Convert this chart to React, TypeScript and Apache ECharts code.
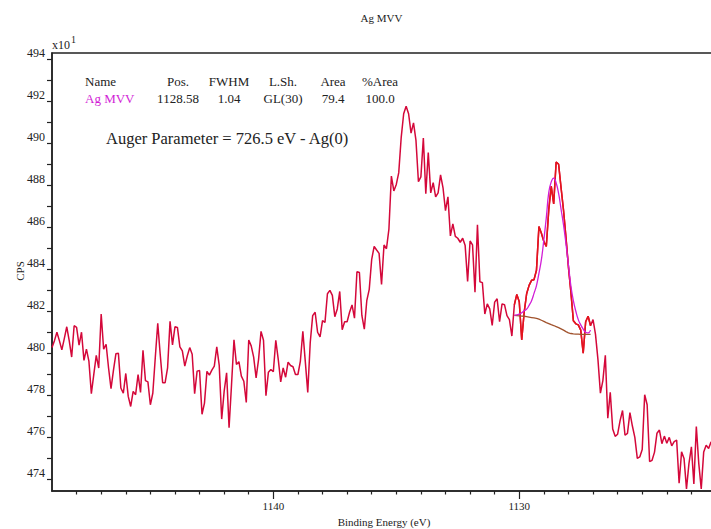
import React, { useEffect, useRef } from "react";
import * as echarts from "echarts";

// Binding energy grid of the acquisition (eV), highest energy first
const START_EV = 1149.0;
const STEP_EV = 0.1;

// Measured counts (x10 CPS), one value per 0.1 eV step starting at 1149.0 eV
const CPS: number[] = [
  480.27, 480.6, 481.0, 480.6, 480.16, 480.7, 481.26, 480.6, 479.82, 481.31,
  481.23, 480.39, 481.0, 479.66, 480.2, 479.63, 478.08, 479.0, 479.9, 479.3,
  481.87, 480.19, 480.43, 479.3, 478.32, 479.2, 479.98, 480.0, 478.35, 478.1,
  479.04, 477.95, 477.47, 478.19, 478.03, 478.99, 478.14, 480.14, 478.7, 478.64,
  477.55, 478.11, 479.8, 481.43, 479.95, 478.6, 478.6, 479.3, 481.52, 480.4,
  481.26, 481.23, 480.3, 480.11, 479.39, 479.87, 480.27, 479.95, 478.08, 479.15,
  479.18, 477.1, 477.63, 479.14, 478.96, 479.2, 479.39, 480.3, 479.42, 476.87,
  478.19, 479.07, 476.46, 478.5, 480.64, 479.47, 479.6, 478.91, 478.67, 477.66,
  480.63, 480.35, 479.82, 478.83, 479.71, 481.04, 480.62, 477.98, 479.1, 479.23,
  479.12, 480.62, 479.71, 478.64, 479.3, 478.86, 479.58, 479.42, 479.36, 478.99,
  478.99, 479.63, 481.04, 479.6, 478.14, 480.5, 481.79, 481.95, 481.0, 480.78,
  481.55, 481.47, 482.83, 482.99, 482.75, 481.74, 482.11, 482.94, 481.12, 481.5,
  481.5, 481.95, 482.3, 481.67, 483.88, 483.84, 481.8, 481.15, 482.5, 483.04,
  484.47, 485.08, 484.91, 484.75, 483.27, 485.15, 484.97, 485.9, 488.43, 487.72,
  488.03, 488.59, 490.27, 491.39, 491.75, 491.39, 490.47, 490.96, 490.12, 488.16,
  488.39, 490.24, 487.59, 489.55, 487.63, 488.11, 487.44, 487.63, 488.48, 487.87,
  486.78, 487.44, 485.58, 486.15, 485.56, 485.47, 485.28, 485.47, 485.12, 483.42,
  485.34, 485.15, 482.9, 486.11, 483.4, 483.36, 481.87, 482.35, 482.11, 481.33,
  482.43, 482.59, 481.5, 482.35, 482.31, 481.79, 481.6, 480.82, 482.3, 482.8,
  482.45, 480.64, 481.95, 482.83, 483.23, 483.47, 483.5, 483.95, 486.03, 485.71,
  485.31, 485.08, 486.83, 487.95, 487.1, 489.1, 488.99, 487.87, 486.8, 485.5,
  484.1, 482.9, 481.55, 481.4, 481.35, 481.1, 480.0, 481.5, 481.76, 481.31,
  481.6, 480.9, 479.7, 478.1, 478.7, 479.9, 476.91, 478.14, 476.4, 476.05,
  476.15, 476.8, 477.28, 476.1, 476.19, 477.18, 476.54, 476.0, 475.0, 475.07,
  475.42, 478.03, 477.55, 474.85, 474.91, 475.3, 476.2, 476.35, 475.7, 476.06,
  475.72, 476.0, 475.6, 475.8, 475.87, 473.82, 475.31, 475.0, 473.55, 474.75,
  475.55, 473.79, 476.51, 474.75, 473.55, 475.31, 475.63, 475.47, 475.79,
];

// Fit region (index into CPS where the region begins)
const FIT_START_INDEX = 188;

// Ag MVV component (on top of background), x10 CPS
const COMPONENT: number[] = [
  481.8, 481.83, 481.86, 481.93, 482.02, 482.1, 482.28, 482.5, 482.85, 483.22,
  483.8, 484.45, 485.4, 486.45, 487.65, 488.15, 488.33, 488.1, 487.6, 486.85,
  486.1, 485.2, 484.2, 483.2, 482.5, 482.0, 481.6, 481.35, 481.15, 481.0,
  480.97, 481.1,
];

// Shirley background, x10 CPS
const BACKGROUND: number[] = [
  481.8, 481.79, 481.78, 481.77, 481.76, 481.74, 481.72, 481.7, 481.68, 481.66,
  481.62, 481.57, 481.52, 481.46, 481.41, 481.36, 481.32, 481.27, 481.22, 481.16,
  481.1, 481.03, 480.97, 480.94, 480.92, 480.91, 480.91, 480.9, 480.9, 480.9,
  480.9, 480.9,
];

// Axis ticks
const X_MAJOR = [1140, 1130];
const X_MINOR = [
  1148, 1147, 1146, 1145, 1144, 1143, 1142, 1141, 1139, 1138, 1137, 1136, 1135,
  1134, 1133, 1132, 1131, 1129, 1128, 1127, 1126, 1125, 1124, 1123,
];
const Y_TICKS = [
  474, 475, 476, 477, 478, 479, 480, 481, 482, 483, 484, 485, 486, 487, 488,
  489, 490, 491, 492, 493, 494,
];
const Y_LABELS = [474, 476, 478, 480, 482, 484, 486, 488, 490, 492, 494];

// Peak table
const TABLE_HEADERS = ["Pos.", "FWHM", "L.Sh.", "Area", "%Area"];
const TABLE_VALUES = ["1128.58", "1.04", "GL(30)", "79.4", "100.0"];
const PEAK_NAME = "Ag MVV";

const FONT = "'Liberation Serif', 'Times New Roman', serif";
const INK = "#222";

function energyAt(i: number): number {
  return Math.round((START_EV - i * STEP_EV) * 100) / 100;
}

export default function App() {
  const ref = useRef<HTMLDivElement>(null);

  useEffect(() => {
    if (!ref.current) return;
    const chart = echarts.init(ref.current, undefined, { renderer: "svg" });

    const data = CPS.map((v, i) => [energyAt(i), v]);
    const regionData = CPS.slice(FIT_START_INDEX, FIT_START_INDEX + COMPONENT.length).map(
      (v, k) => [energyAt(FIT_START_INDEX + k), v]
    );
    const compData = COMPONENT.map((v, k) => [energyAt(FIT_START_INDEX + k), v]);
    const bgData = BACKGROUND.map((v, k) => [energyAt(FIT_START_INDEX + k), v]);

    const colCenters = [178, 229, 283, 333, 380];
    const tableTexts: any[] = [
      {
        type: "text",
        x: 85,
        y: 81.5,
        style: { text: "Name", font: `13px ${FONT}`, fill: INK, textVerticalAlign: "middle" },
      },
      {
        type: "text",
        x: 85,
        y: 98.5,
        style: {
          text: PEAK_NAME,
          font: `13px ${FONT}`,
          fill: "#d21ed6",
          textVerticalAlign: "middle",
        },
      },
    ];
    TABLE_HEADERS.forEach((h, i) => {
      tableTexts.push({
        type: "text",
        x: colCenters[i],
        y: 81.5,
        style: {
          text: h,
          font: `13px ${FONT}`,
          fill: INK,
          textAlign: "center",
          textVerticalAlign: "middle",
        },
      });
      tableTexts.push({
        type: "text",
        x: colCenters[i],
        y: 98.5,
        style: {
          text: TABLE_VALUES[i],
          font: `13px ${FONT}`,
          fill: INK,
          textAlign: "center",
          textVerticalAlign: "middle",
        },
      });
    });

    chart.setOption({
      animation: false,
      backgroundColor: "#fff",
      grid: {
        left: 52,
        right: 4,
        top: 53,
        bottom: 38,
        show: true,
        borderColor: INK,
        borderWidth: 1.5,
        backgroundColor: "transparent",
      },
      xAxis: [
        {
          type: "value",
          inverse: true,
          min: 1122,
          max: 1149,
          position: "bottom",
          axisLine: { show: true, lineStyle: { color: INK, width: 1.5 } },
          axisTick: {
            show: true,
            customValues: X_MAJOR,
            length: 8,
            lineStyle: { color: INK, width: 1.2 },
          },
          axisLabel: {
            customValues: X_MAJOR,
            margin: 9,
            fontSize: 11,
            fontFamily: FONT,
            color: INK,
            formatter: (v: number) => String(v),
          },
          splitLine: { show: false },
        },
        {
          type: "value",
          inverse: true,
          min: 1122,
          max: 1149,
          position: "bottom",
          offset: 0,
          axisLine: { show: false },
          axisTick: {
            show: true,
            customValues: X_MINOR,
            length: 3.5,
            lineStyle: { color: INK, width: 1.2 },
          },
          axisLabel: { show: false },
          splitLine: { show: false },
        },
      ],
      yAxis: {
        type: "value",
        min: 473.45,
        max: 494.28,
        axisLine: { show: true, lineStyle: { color: INK, width: 1.5 } },
        axisTick: {
          show: true,
          customValues: Y_TICKS,
          length: 5,
          lineStyle: { color: INK, width: 1.2 },
        },
        axisLabel: {
          customValues: Y_LABELS,
          margin: 7,
          fontSize: 12,
          fontFamily: FONT,
          color: INK,
          verticalAlign: "bottom",
          formatter: (v: number) => String(v),
        },
        splitLine: { show: false },
      },
      series: [
        {
          type: "line",
          data,
          symbol: "none",
          lineStyle: { color: "#d4083a", width: 1.5 },
          itemStyle: { color: "#d4083a" },
        },
        {
          type: "line",
          data: regionData,
          symbol: "none",
          lineStyle: { color: "#e5141c", width: 1.5 },
          itemStyle: { color: "#e5141c" },
        },
        {
          type: "line",
          data: bgData,
          symbol: "none",
          lineStyle: { color: "#a0522d", width: 1.3 },
          itemStyle: { color: "#a0522d" },
        },
        {
          type: "line",
          data: compData,
          symbol: "none",
          smooth: true,
          lineStyle: { color: "#d21ed6", width: 1.3 },
          itemStyle: { color: "#d21ed6" },
        },
      ],
      graphic: [
        {
          type: "text",
          x: 381.5,
          y: 18,
          style: {
            text: "Ag MVV",
            font: `11px ${FONT}`,
            fill: INK,
            textAlign: "center",
            textVerticalAlign: "middle",
          },
        },
        {
          type: "text",
          x: 52,
          y: 45,
          style: { text: "x10", font: `12px ${FONT}`, fill: INK, textVerticalAlign: "middle" },
        },
        {
          type: "text",
          x: 71,
          y: 39.5,
          style: { text: "1", font: `10px ${FONT}`, fill: INK, textVerticalAlign: "middle" },
        },
        {
          type: "text",
          x: 19.5,
          y: 271,
          rotation: Math.PI / 2,
          style: {
            text: "CPS",
            font: `11px ${FONT}`,
            fill: INK,
            textAlign: "center",
            textVerticalAlign: "middle",
          },
        },
        {
          type: "text",
          x: 384,
          y: 521.5,
          style: {
            text: "Binding Energy (eV)",
            font: `11px ${FONT}`,
            fill: INK,
            textAlign: "center",
            textVerticalAlign: "middle",
          },
        },
        {
          type: "text",
          x: 106,
          y: 138.5,
          style: {
            text: "Auger Parameter = 726.5 eV - Ag(0)",
            font: `16.5px ${FONT}`,
            fill: INK,
            textVerticalAlign: "middle",
          },
        },
        ...tableTexts,
      ],
    });

    return () => chart.dispose();
  }, []);

  return (
    <div
      style={{
        position: "fixed",
        left: 0,
        top: 0,
        width: 711,
        height: 529,
        overflow: "hidden",
        background: "#fff",
      }}
    >
      <div ref={ref} style={{ width: 720, height: 529 }} />
    </div>
  );
}
